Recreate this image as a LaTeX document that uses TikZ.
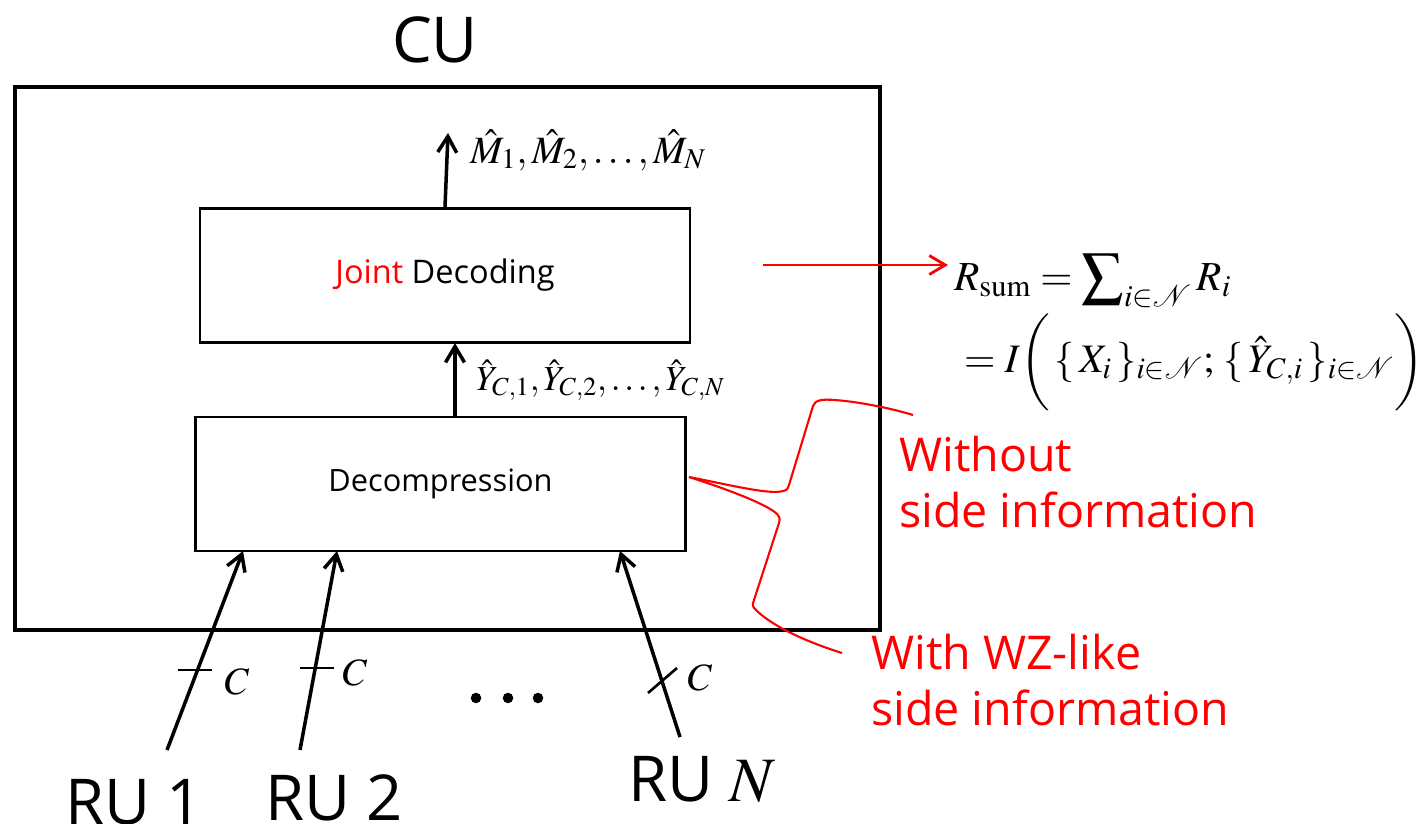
\documentclass[tikz,border=0pt]{standalone}
\usepackage{amsmath}
\usepackage{mathptmx}
\usepackage[no-math]{fontspec}
\setmainfont{Open Sans}
\usetikzlibrary{arrows.meta,positioning}

\begin{document}
\begin{tikzpicture}[x=0.02cm,y=-0.02cm]
   \tikzstyle{box}=[draw,line width=1.5pt,minimum width=9.8cm,minimum height=2.68cm,font=\fontsize{17.5}{20}\selectfont]
   \tikzstyle{ar}=[line width=2pt,-{Straight Barb[length=3.2mm,width=3.8mm]}]
   \tikzstyle{rar}=[red,line width=1.6pt,-{Straight Barb[length=3.2mm,width=3.8mm]}]
   \tikzstyle{br}=[red,line width=1.2pt]
   \tikzstyle{big}=[font=\fontsize{36}{40}\selectfont]
   \tikzstyle{lbl}=[red,align=left,anchor=west,font=\fontsize{26.5}{32}\selectfont]
   \tikzstyle{mth}=[font=\fontsize{22}{26}\selectfont]
   \tikzstyle{tk}=[line width=1.5pt]

   \useasboundingbox (0,0) rectangle (1422,824);

   \node (cu) [draw,line width=2.4pt,minimum width=17.3cm,minimum height=10.86cm] at (447.5,358.5) {};
   \node (cut) [big] at (435,40) {CU};
   \node (jd) [box,font=\fontsize{18.5}{22}\selectfont] at (445,275.5) {{\color{red}Joint} Decoding};
   \node (dc) [box] at (440.5,484) {Decompression};

   \coordinate (mo) at (448,133);
   \draw[ar] (jd.north) -- (mo);
   \node (ml) [mth,anchor=west] at (464,150) {$\hat M_1,\hat M_2,\ldots,\hat M_N$};
   \coordinate (yb) at (455,418);
   \coordinate (yt) at (455,343);
   \draw[ar] (yb) -- (yt);
   \node (yl) [mth,anchor=west,inner sep=1pt,font=\fontsize{20}{24}\selectfont] at (474,380) {$\hat Y_{C,1},\hat Y_{C,2},\ldots,\hat Y_{C,N}$};

   \coordinate (ra) at (763,265);
   \node (s1) [mth,anchor=base west,font=\fontsize{23.5}{28}\selectfont] at (948,290) {$\displaystyle R_{\mathrm{sum}}=\sum\nolimits_{i\in\mathcal{N}}R_i$};
   \node (s2) [mth,anchor=base west,font=\fontsize{23}{28}\selectfont] at (958,372) {$\displaystyle =I\biggl(\,\{\,X_i\,\}_{i\in\mathcal{N}};\,\{\,\hat Y_{C,i}\,\}_{i\in\mathcal{N}}\biggr)$};
   \draw[rar] (ra) -- (s1.west |- ra);

   \coordinate (bs) at (689,477);
   \draw[br] (bs) .. controls (730,485) and (770,495) .. (783,491) .. controls (787,490) .. (789,485) -- (813,406) .. controls (815,400) and (822,399) .. (835,400) .. controls (860,402) and (890,408) .. (913,415);
   \draw[br] (bs) .. controls (730,490) and (768,505) .. (777,514) .. controls (780,518) .. (779,523) -- (754,600) .. controls (752,606) .. (757,611) .. controls (775,628) and (810,643) .. (842,653);
   \node (wo) [lbl] at (893,482) {Without\\side information};
   \node (wz) [lbl] at (865,680) {With WZ-like\\side information};

   \node (r1) [big] at (134,802) {RU 1};
   \node (r2) [big] at (334,798) {RU 2};
   \node (rn) [big] at (702,779) {RU $N$};
   \coordinate (a1) at (167,750);
   \coordinate (a2) at (300,750);
   \coordinate (an) at (680,737);
   \coordinate (i1) at (243,551);
   \coordinate (i2) at (337,551);
   \coordinate (in) at (620,551);
   \draw[ar] (a1) -- (i1);
   \draw[ar] (a2) -- (i2);
   \draw[ar] (an) -- (in);
   \draw[tk] (178,670) -- (212,670);
   \draw[tk] (300,668) -- (334,668);
   \draw[tk] (648,693) -- (677,668);
   \node (c1) [mth] at (237,682) {$C$};
   \node (c2) [mth] at (355,673) {$C$};
   \node (cn) [mth] at (700,678) {$C$};
   \foreach \x in {476,508,538} \fill (\x,698) circle[radius=3pt];
\end{tikzpicture}
\end{document}
